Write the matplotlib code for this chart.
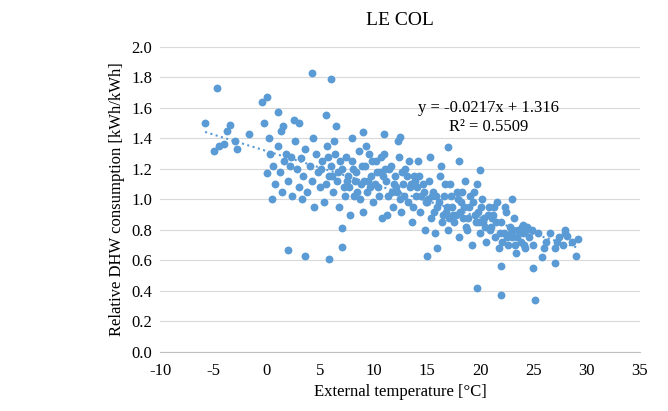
import matplotlib.pyplot as plt
import numpy as np

plt.rcParams['font.family'] = ['Liberation Serif', 'DejaVu Serif']
plt.rcParams['axes.unicode_minus'] = False

# external temperature [°C] and relative consumption
temp = [-5.8, -4.7, -5.0, -4.5, -4.0, -3.7, -3.5, -3.0, -2.8, -1.7, -0.5, 0.0, -0.3, 0.0, 0.5,
        1.0, 1.5, 2.0, 2.5, 3.0, 3.6, 4.2, 5.8, 6.0, 5.5, 6.5, 7.0, 7.0, 8.0, 9.0, 11.0, 12.5,
        15.0, 16.0, 17.0, 19.7, 22.0, 25.2, 22.0, 25.0, 27.0, 29.0, 18.0, 20.0, 23.0, 24.0, 28.0, 29.2,
        0.3, 0.6, 0.8, 1.0, 1.2, 1.4, 1.6, 1.8, 2.0, 2.2, 2.4, 2.6, 2.8, 3.0, 3.2, 3.4, 3.6, 3.8,
        4.0, 4.2, 4.4, 4.6, 4.8, 5.0, 5.2, 5.4, 5.6, 5.8,
        6.0, 6.2, 6.4, 6.6, 6.8, 7.0, 7.2, 7.4, 7.6, 7.8, 8.0, 8.2, 8.4, 8.6, 8.8, 9.0, 9.2, 9.4,
        9.6, 9.8, 10.0, 10.2, 10.4, 10.6, 10.8, 11.0, 11.2, 11.4, 11.6, 11.8,
        12.0, 12.2, 12.4, 12.6, 12.8, 13.0, 13.2, 13.4, 13.6, 13.8, 14.0, 14.2, 14.4, 14.6, 14.8,
        15.0, 15.2, 15.4, 15.6, 15.8, 16.0, 16.2, 16.4, 16.6, 16.8,
        17.0, 17.2, 17.4, 17.6, 17.8, 18.0, 18.2, 18.4, 18.6, 18.8, 19.0, 19.2, 19.4, 19.6, 19.8,
        20.0, 20.2, 20.4, 20.6, 20.8, 21.0,
        21.2, 21.4, 21.6, 21.8, 22.0, 22.2, 22.4, 22.6, 22.8, 23.0, 23.2, 23.4, 23.6, 23.8, 24.0,
        24.2, 24.4, 24.6, 25.0, 25.4, 25.8, 26.2, 26.6, 27.0, 27.4, 27.8, 28.2, 28.6,
        5.1, 6.3, 7.3, 8.3, 9.3, 10.3, 11.3, 12.3, 13.3, 14.3, 15.3, 16.3, 17.3, 18.3, 19.3, 20.3,
        21.3, 22.3, 23.3, 24.3, 8.7, 9.7, 10.7, 11.7, 12.7, 13.7, 14.7, 15.7, 16.7, 17.7, 18.7,
        19.7, 20.7, 2.3, 3.3, 4.3, 1.3, 0.2,
        5.5, 6.1, 6.9, 7.5, 8.1, 8.9, 9.5, 10.1, 10.9, 11.5, 12.1, 12.9, 13.5, 14.1, 14.9,
        15.5, 16.1, 16.9, 17.5, 18.1, 18.9, 19.5, 20.1, 20.9, 21.5, 22.1, 22.9, 23.5, 24.1, 24.9,
        5.7, 6.7, 7.7, 8.5, 9.1, 9.9, 10.5, 11.1, 11.9, 12.5, 13.1, 13.9, 14.5, 15.1, 15.9,
        16.5, 17.1, 17.9, 18.5, 19.1, 19.9, 20.5, 21.1, 21.9, 22.5, 23.1, 23.9, 26.0, 27.2, 28.0]
rel = [1.50, 1.73, 1.32, 1.35, 1.36, 1.45, 1.49, 1.38, 1.33, 1.43, 1.64, 1.67, 1.50, 1.17, 1.00,
       1.57, 1.48, 0.67, 1.52, 1.50, 0.63, 1.83, 0.61, 1.79, 1.55, 1.48, 0.81, 0.69, 1.40, 1.44, 1.43, 1.41,
       0.63, 0.68, 1.34, 0.42, 0.37, 0.34, 0.56, 0.55, 0.58, 0.63, 1.25, 1.19, 1.00, 0.83, 0.80, 0.74,
       1.30, 1.22, 1.10, 1.35, 1.18, 1.05, 1.25, 1.30, 1.12, 1.22, 1.02, 1.38, 1.20, 1.08, 1.27, 1.15, 1.33, 1.05,
       1.22, 1.12, 0.95, 1.30, 1.18, 1.08, 1.25, 0.98, 1.35, 1.15,
       1.22, 1.05, 1.30, 1.12, 0.95, 1.20, 1.08, 1.28, 1.15, 0.90, 1.25, 1.02, 1.18, 1.32, 1.10, 0.92, 1.22, 1.05,
       1.30, 1.15, 0.98, 1.25, 1.08, 1.18, 0.88, 1.30, 1.12, 1.02, 1.22, 0.95,
       1.15, 1.05, 1.28, 0.92, 1.10, 1.20, 0.98, 1.08, 0.85, 1.15, 1.02, 1.25, 0.92, 1.10, 0.80,
       0.98, 1.12, 0.88, 1.05, 0.78, 0.95, 1.15, 0.85, 1.02, 0.92,
       0.80, 1.10, 0.95, 0.85, 1.05, 0.75, 0.98, 0.88, 1.12, 0.80, 0.95, 0.70, 1.05, 0.85, 0.92,
       0.78, 1.00, 0.88, 0.72, 0.95, 0.82,
       0.90, 0.75, 0.98, 0.68, 0.85, 0.78, 0.92, 0.70, 0.82, 0.75, 0.88, 0.65, 0.80, 0.72, 0.78,
       0.68, 0.82, 0.75, 0.70, 0.78, 0.62, 0.72, 0.78, 0.68, 0.75, 0.70, 0.76, 0.72,
       1.20, 1.38, 1.02, 1.12, 1.35, 1.18, 0.90, 1.38, 1.25, 1.15, 1.28, 1.22, 1.02, 1.05, 0.98, 0.85,
       0.95, 0.95, 0.70, 0.80, 1.00, 1.08, 1.28, 1.05, 1.18, 0.95, 1.05, 0.92, 1.10, 0.90, 0.82,
       1.10, 0.90, 1.28, 1.00, 1.40, 1.45, 1.40,
       1.10, 1.15, 1.25, 1.12, 1.20, 1.22, 1.12, 1.10, 1.15, 1.20, 1.08, 1.02, 1.10, 1.08, 0.98,
       1.02, 0.98, 0.95, 0.90, 0.92, 0.88, 0.90, 0.95, 0.80, 0.85, 0.72, 0.78, 0.75, 0.70, 0.80,
       1.28, 1.18, 1.08, 1.05, 1.12, 1.25, 1.02, 1.20, 1.10, 1.00, 1.15, 1.12, 1.02, 1.00, 1.02,
       0.90, 0.88, 1.00, 0.95, 1.02, 0.85, 0.82, 0.88, 0.78, 0.75, 0.80, 0.82, 0.68, 0.72, 0.78]

slope, intercept = -0.0217, 1.316
eq_text = "y = -0.0217x + 1.316"
r2_text = "R² = 0.5509"

fig = plt.figure(figsize=(6.68, 4.11), dpi=100)
ax = fig.add_axes([0.24, 0.144, 0.718, 0.742])

ax.scatter(temp, rel, s=32, color='#5B9BD5', zorder=3, linewidths=0)
xt = np.array([min(temp), max(temp)])
ax.plot(xt, slope * xt + intercept, ls=':', color='#5B9BD5', lw=1.5, zorder=4)

ax.set_xlim(-10, 35)
ax.set_ylim(0, 2.0)
ax.set_xticks(np.arange(-10, 36, 5))
ax.set_yticks(np.arange(0, 2.01, 0.2))
ax.set_yticklabels([f"{v:.1f}" for v in np.arange(0, 2.01, 0.2)])
ax.grid(axis='y', color='#D9D9D9', lw=0.8)
ax.set_axisbelow(True)
for s in ['top', 'right', 'left']:
    ax.spines[s].set_visible(False)
ax.spines['bottom'].set_color('#BFBFBF')
ax.tick_params(length=0, labelsize=12)
ax.tick_params(axis='x', pad=8)
ax.tick_params(axis='y', pad=6)

ax.text(20.8, 1.60, eq_text, fontsize=12, ha='center', va='center')
ax.text(20.8, 1.475, r2_text, fontsize=12, ha='center', va='center')

ax.set_title("LE COL", fontsize=14, pad=16)
ax.set_xlabel("External temperature [°C]", fontsize=12, labelpad=4)
ax.set_ylabel("Relative DHW consumption [kWh/kWh]", fontsize=12)

fig.savefig("out.png", dpi=100)
